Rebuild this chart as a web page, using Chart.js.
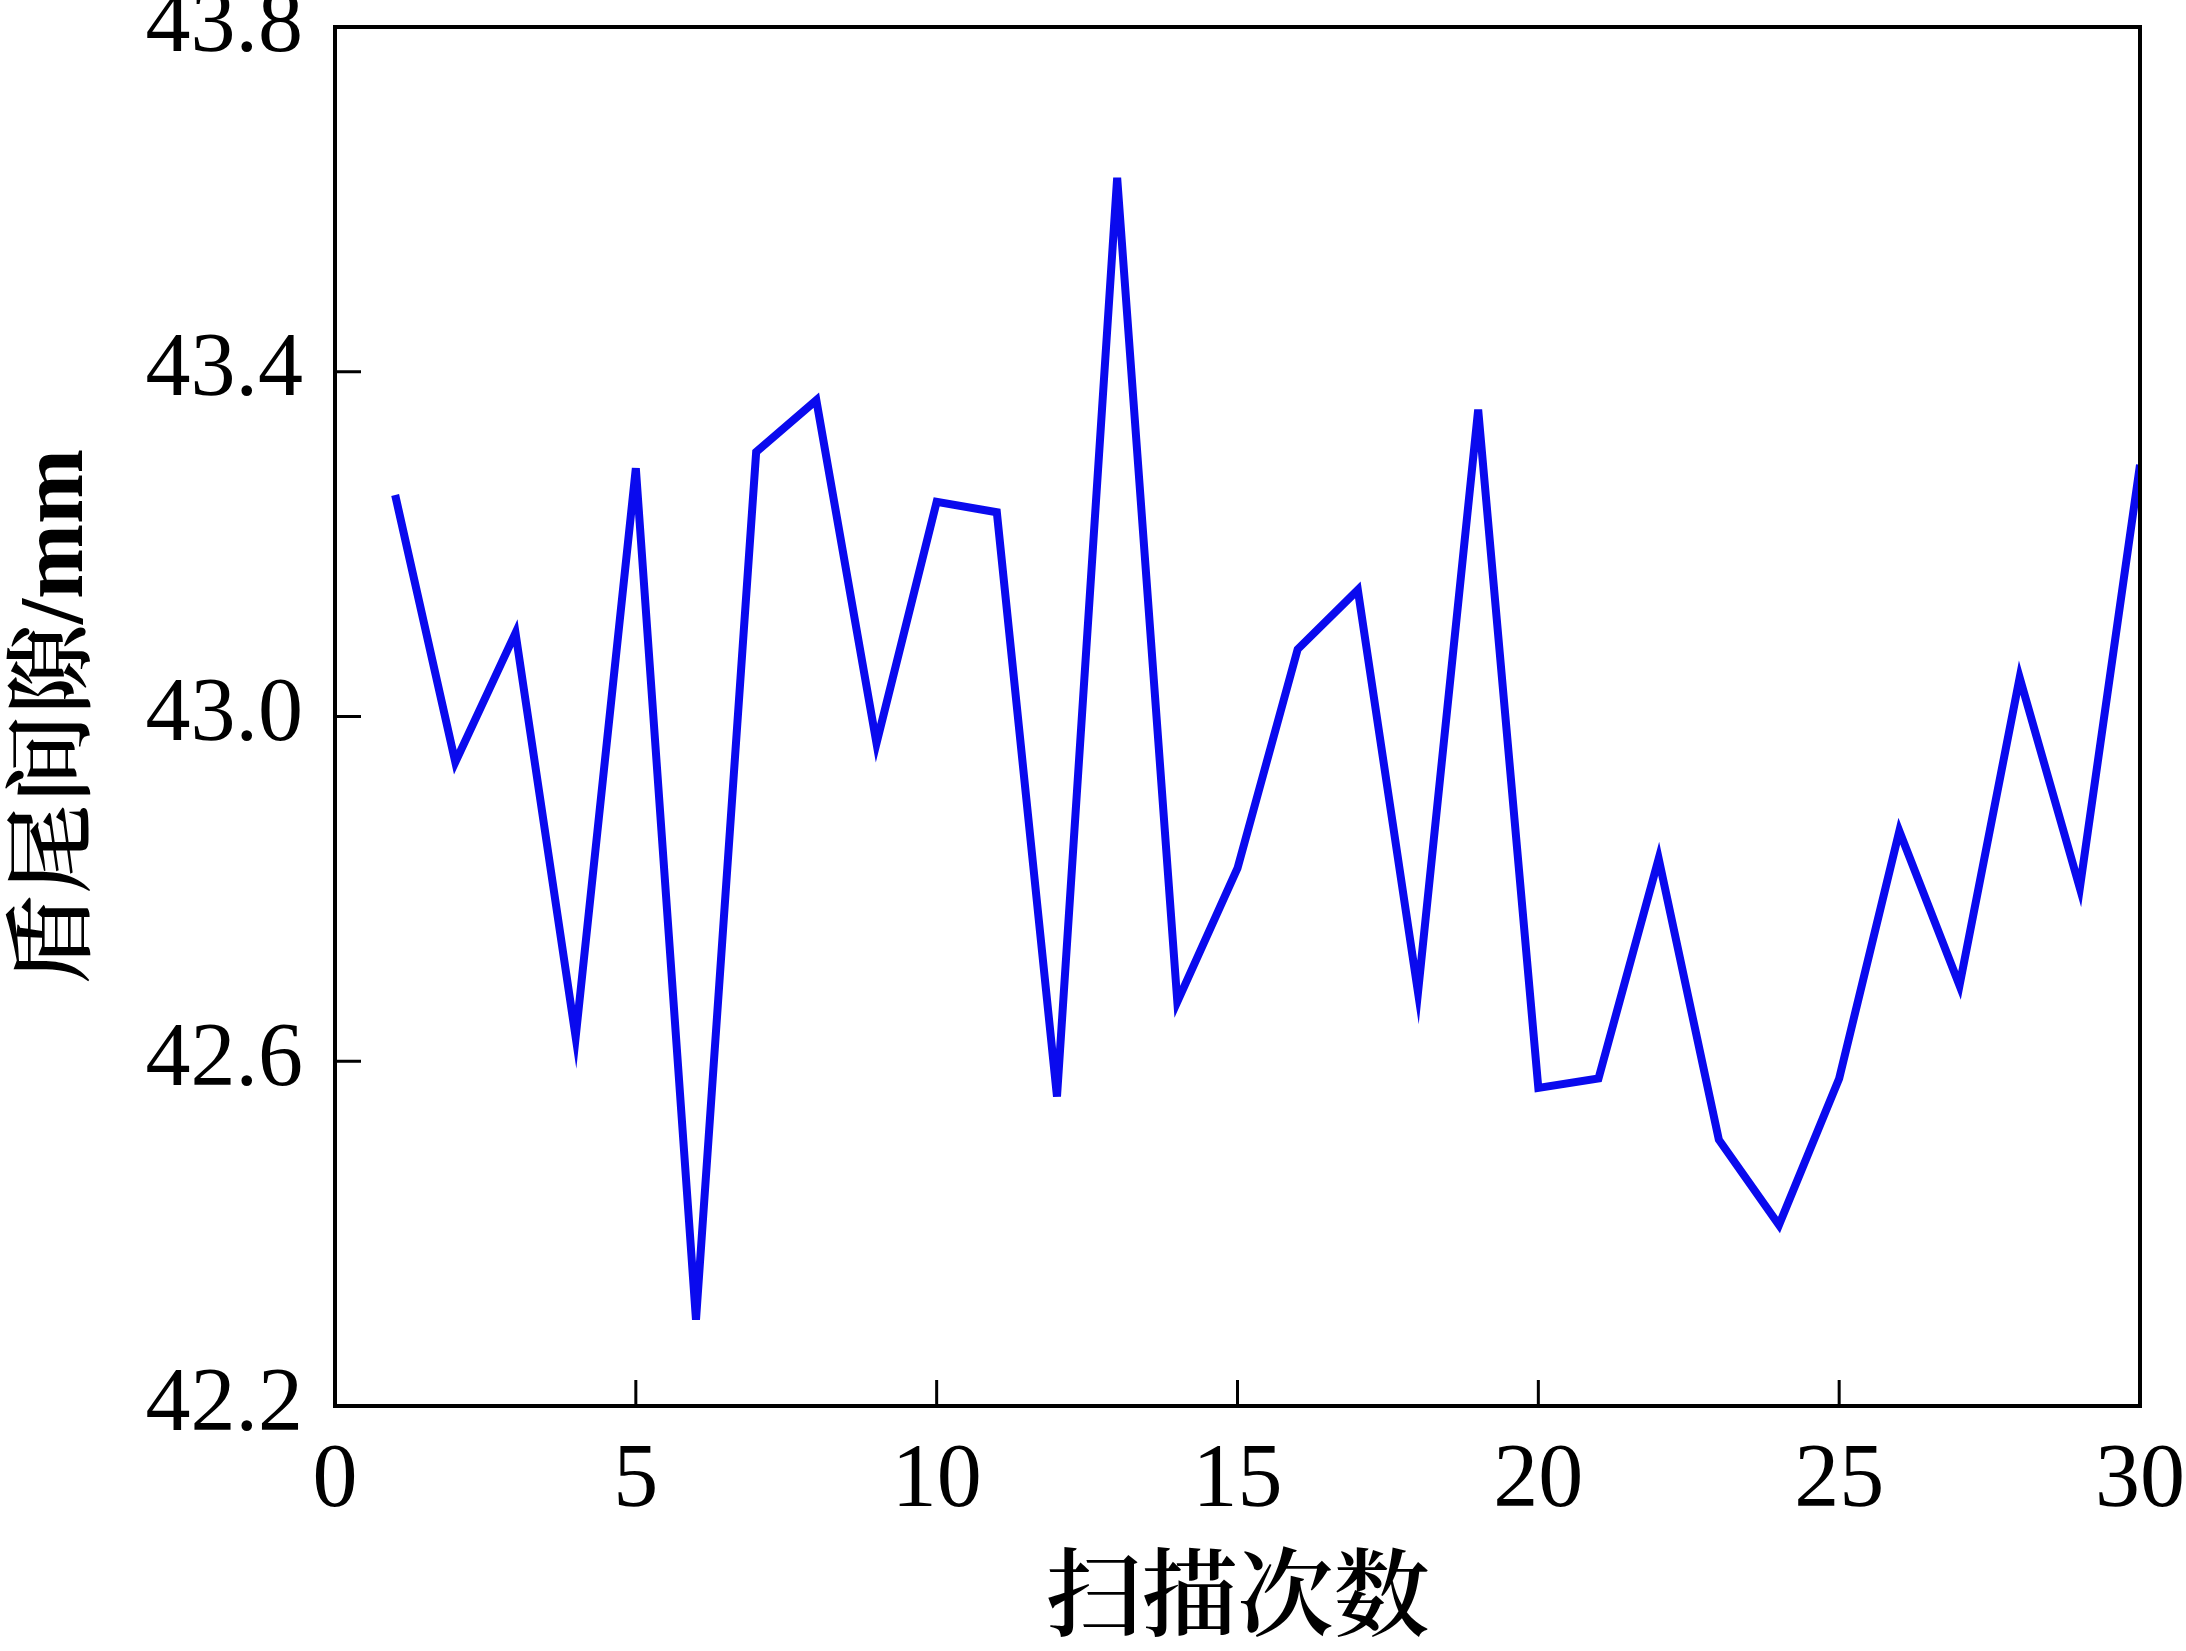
<!DOCTYPE html>
<html>
<head>
<meta charset="utf-8">
<script src="https://cdn.jsdelivr.net/npm/chart.js@4"></script>
<style>
  html, body { margin: 0; padding: 0; background: #fff; }
  #wrap { width: 2186px; height: 1651px; }
</style>
</head>
<body>
<div id="wrap"><canvas id="chartGap" width="2186" height="1651"></canvas></div>
<script>
// 扫描次数 (x) and 盾尾间隙 (y, mm)
const scanCount = [1, 2, 3, 4, 5, 6, 7, 8, 9, 10, 11, 12, 13, 14, 15,
  16, 17, 18, 19, 20, 21, 22, 23, 24, 25, 26, 27, 28, 29, 30];
const gapValues = [43.257, 42.947, 43.097, 42.628, 43.288, 42.300, 43.307, 43.367, 42.969, 43.249,
  43.237, 42.559, 43.625, 42.669, 42.824, 43.078, 43.147, 42.680, 43.356, 42.569,
  42.580, 42.835, 42.509, 42.410, 42.580, 42.867, 42.688, 43.045, 42.801, 43.292];
const xTicks = [0, 5, 10, 15, 20, 25, 30];
const yTicks = [42.2, 42.6, 43.0, 43.4, 43.8];

const xTitle = '扫描次数';
const yTitle = '盾尾间隙/mm';

const fontFamily = "'Times New Roman', 'Liberation Serif', 'Noto Serif CJK SC', 'Noto Sans CJK SC', serif";

// frame + inward ticks on left and bottom
const frameTicks = {
  id: 'frameTicks',
  afterDatasetsDraw(chart) {
    const { ctx, chartArea: a, scales } = chart;
    ctx.save();
    ctx.strokeStyle = '#000';
    ctx.lineWidth = 4;
    ctx.strokeRect(a.left, a.top, a.right - a.left, a.bottom - a.top);
    ctx.lineWidth = 3;
    ctx.beginPath();
    scales.x.ticks.forEach(t => {
      const px = scales.x.getPixelForValue(t.value);
      ctx.moveTo(px, a.bottom);
      ctx.lineTo(px, a.bottom - 26);
    });
    scales.y.ticks.forEach(t => {
      const py = scales.y.getPixelForValue(t.value);
      ctx.moveTo(a.left, py);
      ctx.lineTo(a.left + 26, py);
    });
    ctx.stroke();
    ctx.restore();
  }
};

new Chart(document.getElementById('chartGap'), {
  type: 'line',
  data: {
    datasets: [{
      data: scanCount.map((x, i) => ({ x: x, y: gapValues[i] })),
      borderColor: '#0a0aee',
      borderWidth: 8,
      pointRadius: 0,
      tension: 0,
      fill: false
    }]
  },
  options: {
    responsive: false,
    animation: false,
    layout: { padding: { left: 5, right: 46, top: 27, bottom: 0 } },
    plugins: { legend: { display: false }, tooltip: { enabled: false } },
    scales: {
      x: {
        type: 'linear',
        min: 0,
        max: 30,
        afterBuildTicks: s => { s.ticks = xTicks.map(v => ({ value: v })); },
        afterFit: s => { s.height = 245; s.paddingLeft = 0; s.paddingRight = 0; },
        grid: { display: false, drawTicks: false },
        border: { display: false },
        ticks: {
          color: '#000',
          padding: 22,
          maxRotation: 0,
          font: { family: fontFamily, size: 90 }
        },
        title: {
          display: true,
          text: xTitle,
          color: '#000',
          padding: { top: 0, bottom: 0 },
          font: { family: fontFamily, size: 96, weight: '600', lineHeight: 1.0 }
        }
      },
      y: {
        min: 42.2,
        max: 43.8,
        afterBuildTicks: s => { s.ticks = yTicks.map(v => ({ value: v })); },
        afterFit: s => { s.width = 330; s.paddingTop = 0; s.paddingBottom = 0; },
        grid: { display: false, drawTicks: false },
        border: { display: false },
        ticks: {
          color: '#000',
          padding: 32,
          callback: v => Number(v).toFixed(1),
          font: { family: fontFamily, size: 90 }
        },
        title: {
          display: true,
          text: yTitle,
          color: '#000',
          padding: { top: 0, bottom: 0 },
          font: { family: fontFamily, size: 90, weight: '600' }
        }
      }
    }
  },
  plugins: [frameTicks]
});
</script>
</body>
</html>
